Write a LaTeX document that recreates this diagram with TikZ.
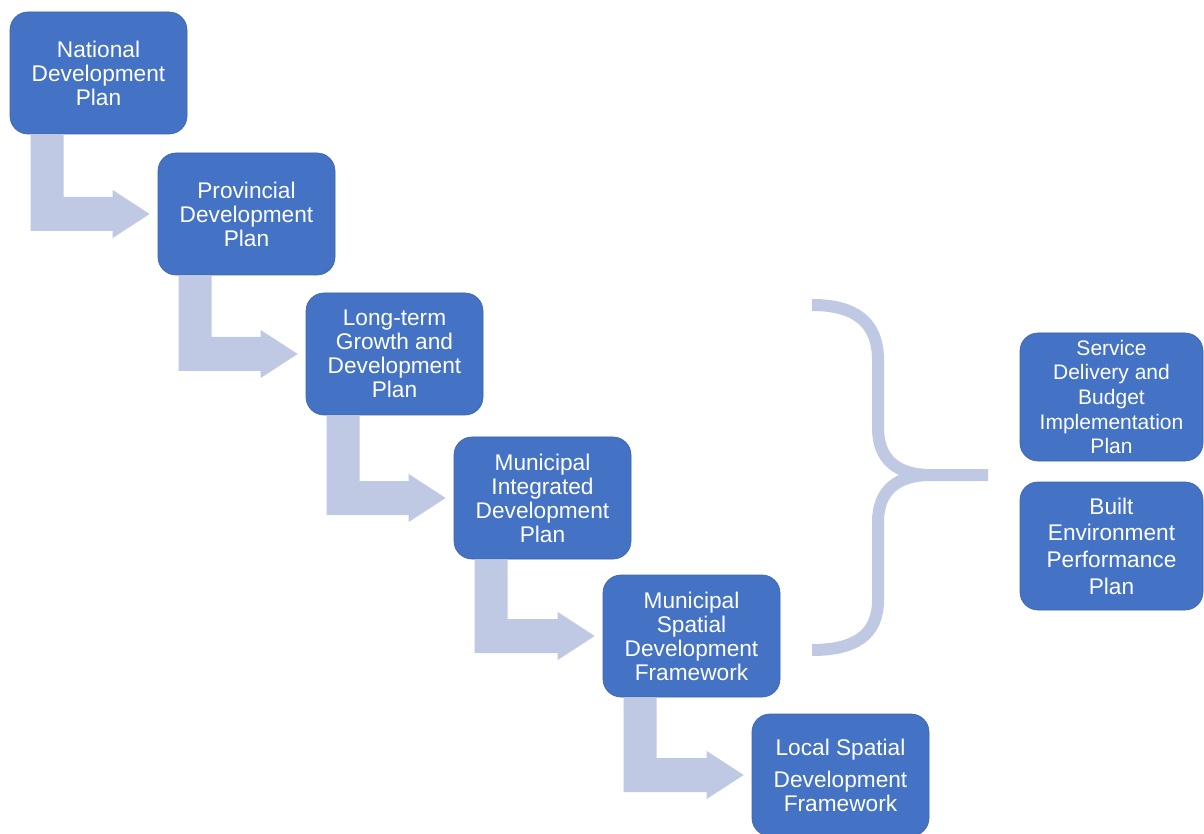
\documentclass[tikz,border=0pt]{standalone}
\usepackage{fontspec}
\setmainfont{Liberation Sans}
\usetikzlibrary{calc}
\definecolor{boxblue}{RGB}{68,114,196}
\definecolor{boxedge}{RGB}{60,100,172}
\definecolor{arrowfill}{RGB}{191,201,228}
\tikzset{
  planbox/.style={draw=boxedge, line width=0.5pt, fill=boxblue, rounded corners=13.5pt,
    minimum width=132.75pt, minimum height=91.5pt, inner sep=0pt, align=center,
    text=white, font=\fontsize{17}{18}\selectfont},
  sidebox/.style={planbox, minimum width=137.25pt, minimum height=96pt},
  bentfill/.style={fill=arrowfill},
  bracestyle/.style={draw=arrowfill, line width=9pt}
}
\newcommand{\bentarrow}[2]{%
  \fill[bentfill] ($(#1.south west)+(21,0)$) -- ($(#1.south west)+(54,0)$)
    |- ($(#2.west)+(-45,-17)$) -- ($(#2.west)+(-45,-24)$) -- ($(#2.west)+(-8,0)$)
    -- ($(#2.west)+(-45,24)$) -- ($(#2.west)+(-45,17)$)
    -| ($(#1.south west)+(21,0)$) -- cycle;}
\begin{document}
\begin{tikzpicture}[x=0.75pt, y=-0.75pt]
\useasboundingbox (0,0) rectangle (1204,834);
\clip (0,0) rectangle (1204,834);
\fill[white] (0,0) rectangle (1204,834);

\node[planbox] (n1) at (98.5,73) {National\\Development\\Plan};
\node[planbox] (n2) at (246.5,214) {Provincial\\Development\\Plan};
\node[planbox] (n3) at (394.5,354) {Long-term\\Growth and\\Development\\Plan};
\node[planbox] (n4) at (542.5,498) {Municipal\\Integrated\\Development\\Plan};
\node[planbox] (n5) at (691.5,636) {Municipal\\Spatial\\Development\\Framework};
\node[planbox, minimum height=91.5pt] (n6) at (840.5,775) {Local Spatial\\[6pt]Development\\Framework};

\begin{scope}[on background layer/.style={}]
\bentarrow{n1}{n2}
\bentarrow{n2}{n3}
\bentarrow{n3}{n4}
\bentarrow{n4}{n5}
\bentarrow{n5}{n6}
\end{scope}

\node[sidebox, font=\fontsize{15.75}{18.5}\selectfont] (s1) at (1111.5,397) {Service\\Delivery and\\Budget\\Implementation\\Plan};
\node[sidebox, font=\fontsize{17}{20}\selectfont] (s2) at (1111.5,546) {Built\\Environment\\Performance\\Plan};

\coordinate (bt) at (812,305);
\coordinate (bb) at (812,650);
\coordinate (bp) at (988,475);
\draw[bracestyle] (bt) .. controls (855,305) and (878,322) .. (878,360)
  -- (878,428) .. controls (878,460) and (898,475) .. (930,475) -- (bp);
\draw[bracestyle] (bb) .. controls (855,650) and (878,635) .. (878,600)
  -- (878,522) .. controls (878,490) and (898,475) .. (930,475);
\end{tikzpicture}
\end{document}
